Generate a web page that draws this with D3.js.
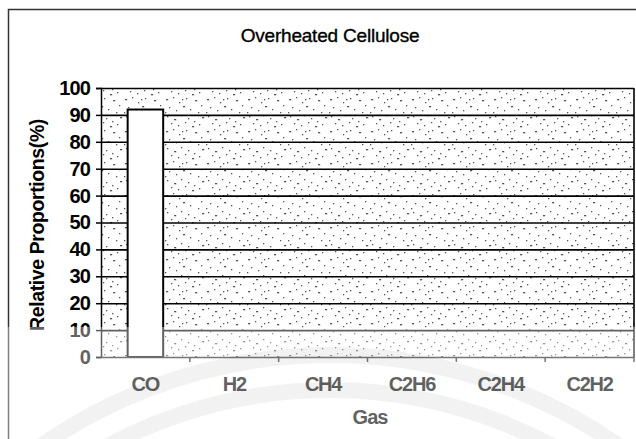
<!DOCTYPE html>
<html>
<head>
<meta charset="utf-8">
<script src="https://cdn.jsdelivr.net/npm/d3@7"></script>
<style>
  body { margin: 0; background: #fff; }
  svg { display: block; }
  text { font-family: 'Liberation Sans', Arial, sans-serif; }
</style>
</head>
<body>
<div id="chart"></div>
<script>
var gases = ['CO', 'H2', 'CH4', 'C2H6', 'C2H4', 'C2H2'];
var proportions = [92, 0, 0, 0, 0, 0];
var yTicks = [0, 10, 20, 30, 40, 50, 60, 70, 80, 90, 100];

var W = 636, H = 439;
var plot = { left: 101, right: 634, top: 88, bottom: 357 };

// dot positions inside one tile of the stippled plot background
var stipple = [[2, 3], [9, 1], [15, 6], [22, 2], [31, 4], [37, 9], [5, 11], [12, 14],
    [19, 10], [26, 13], [34, 16], [3, 20], [10, 23], [17, 19], [24, 22], [30, 25],
    [38, 21], [7, 27], [14, 29], [21, 26], [28, 30], [35, 28], [1, 16], [18, 3]];

function svgr(id, w, h) {
    return d3.select(id)
        .append('svg')
        .attr('width', w)
        .attr('height', h)
        .attr('xmlns', 'http://www.w3.org/2000/svg');
}

function plotData(id) {
    var svg = svgr(id, W, H);

    var x = d3.scaleBand()
        .domain(gases)
        .range([plot.left, plot.right]);
    var y = d3.scaleLinear()
        .domain([0, 100])
        .range([plot.bottom, plot.top]);

    var pat = svg.append('defs')
        .append('pattern')
        .attr('id', 'stipple')
        .attr('patternUnits', 'userSpaceOnUse')
        .attr('width', 41)
        .attr('height', 32);
    pat.selectAll('rect')
        .data(stipple)
        .enter()
        .append('rect')
        .attr('x', (d) => d[0])
        .attr('y', (d) => d[1])
        .attr('width', (d, i) => i % 4 === 0 ? 2.2 : 1.3)
        .attr('height', 1.3)
        .attr('fill', '#555');

    // outer chart frame
    svg.append('path')
        .attr('d', 'M8.5,' + H + 'V9.5H' + W)
        .attr('fill', 'none')
        .attr('stroke', '#333')
        .attr('stroke-width', 1.5);

    svg.append('text')
        .attr('x', 330)
        .attr('y', 42)
        .attr('text-anchor', 'middle')
        .attr('stroke', '#000')
        .attr('stroke-width', 0.35)
        .style('font-size', '19px')
        .style('letter-spacing', '-0.2px')
        .text('Overheated Cellulose');

    svg.append('rect')
        .attr('x', plot.left)
        .attr('y', plot.top)
        .attr('width', plot.right - plot.left)
        .attr('height', plot.bottom - plot.top)
        .attr('fill', 'url(#stipple)');

    // horizontal gridlines
    svg.append('g')
        .attr('transform', `translate(${plot.left},0)`)
        .call(d3.axisLeft(y).tickValues(yTicks.slice(1)).tickSize(-(plot.right - plot.left)).tickFormat(''))
        .call((g) => g.select('.domain').remove())
        .selectAll('line')
        .attr('stroke', '#000')
        .attr('stroke-width', 1.6);

    svg.append('line')
        .attr('x1', plot.right).attr('x2', plot.right)
        .attr('y1', plot.top).attr('y2', plot.bottom)
        .attr('stroke', '#000')
        .attr('stroke-width', 1.6);

    svg.selectAll('.bar')
        .data(proportions)
        .enter()
        .append('rect')
        .attr('class', 'bar')
        .attr('x', (d, i) => x(gases[i]) + x.bandwidth() * 0.3)
        .attr('width', x.bandwidth() * 0.4)
        .attr('y', (d) => y(d))
        .attr('height', (d) => y(0) - y(d))
        .attr('fill', '#fff')
        .attr('stroke', '#000')
        .attr('stroke-width', 2);

    // y axis
    var yAxis = svg.append('g')
        .attr('transform', `translate(${plot.left},0)`)
        .call(d3.axisLeft(y).tickValues(yTicks).tickSize(5).tickPadding(6));
    yAxis.select('.domain').attr('stroke', '#000').attr('stroke-width', 1.5);
    yAxis.selectAll('line').attr('stroke', '#000').attr('stroke-width', 1.5);
    yAxis.selectAll('text')
        .attr('fill', '#000')
        .style('font-size', '20px')
        .style('font-weight', 'bold')
        .style('letter-spacing', '-0.9px');

    // x axis: baseline, boundary ticks, labels
    var xAxis = svg.append('g')
        .attr('transform', `translate(0,${plot.bottom})`)
        .call(d3.axisBottom(x).tickSize(0).tickPadding(20));
    xAxis.select('.domain').attr('stroke', '#222').attr('stroke-width', 1.5);
    xAxis.selectAll('text')
        .attr('fill', '#000')
        .style('font-size', '20px')
        .style('font-weight', 'bold')
        .style('letter-spacing', '-1.2px');
    xAxis.selectAll('.edge')
        .data(gases.slice(1).concat(['end']))
        .enter()
        .append('line')
        .attr('class', 'edge')
        .attr('x1', (d) => d === 'end' ? plot.right : x(d))
        .attr('x2', (d) => d === 'end' ? plot.right : x(d))
        .attr('y1', 0)
        .attr('y2', 5)
        .attr('stroke', '#222')
        .attr('stroke-width', 1.5);

    svg.append('text')
        .attr('transform', 'translate(44,225) rotate(-90)')
        .attr('text-anchor', 'middle')
        .style('font-size', '19.5px')
        .style('font-weight', 'bold')
        .style('letter-spacing', '-0.4px')
        .text('Relative Proportions(%)');

    svg.append('text')
        .attr('x', 370)
        .attr('y', 424)
        .attr('text-anchor', 'middle')
        .style('font-size', '20px')
        .style('font-weight', 'bold')
        .style('letter-spacing', '-1px')
        .text('Gas');

    // faded watermark over the lower part of the scan
    svg.append('rect')
        .attr('x', 0).attr('y', 327)
        .attr('width', W).attr('height', H - 327)
        .attr('fill', '#fff')
        .attr('opacity', 0.38);
    svg.selectAll('.wm')
        .data([470, 505])
        .enter()
        .append('circle')
        .attr('class', 'wm')
        .attr('cx', 330)
        .attr('cy', 860)
        .attr('r', (d) => d)
        .attr('fill', 'none')
        .attr('stroke', '#000')
        .attr('stroke-opacity', 0.05)
        .attr('stroke-width', 16);
}

plotData('#chart');
</script>
</body>
</html>
